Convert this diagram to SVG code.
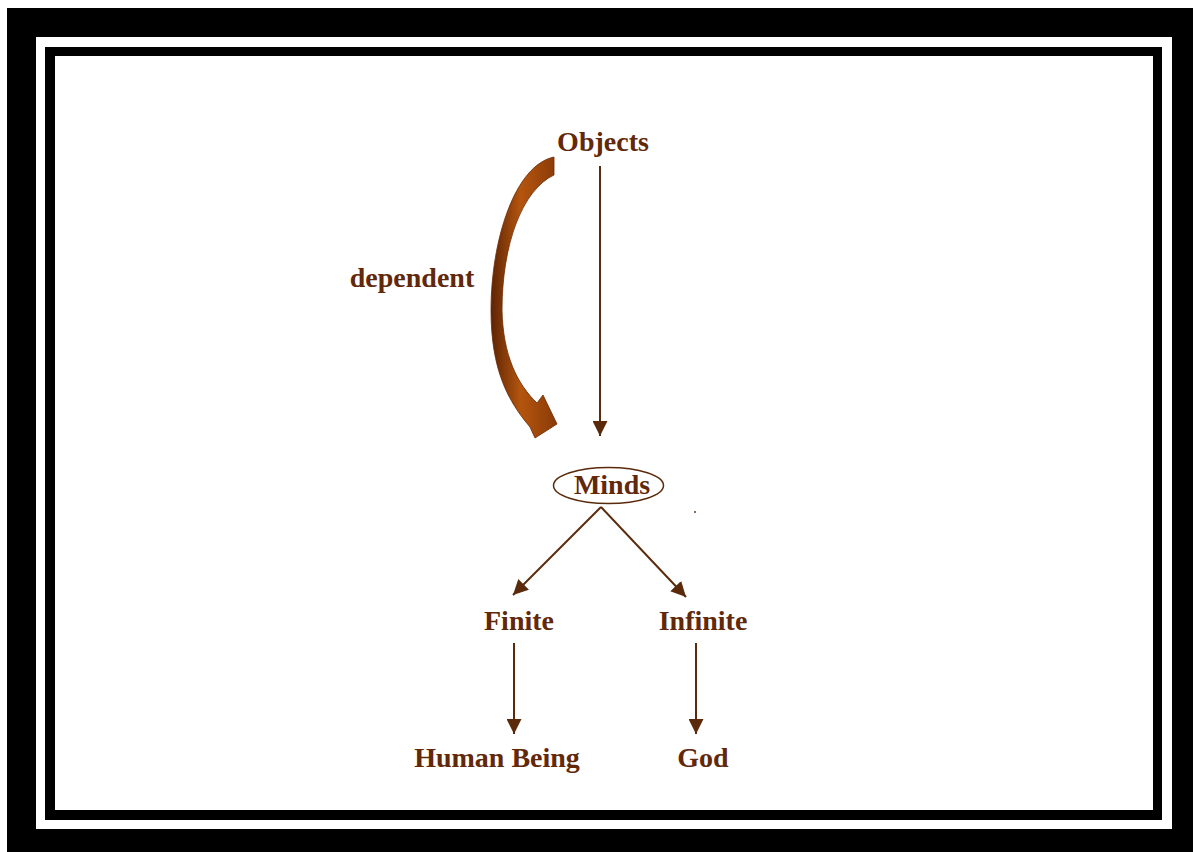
<svg xmlns="http://www.w3.org/2000/svg" width="1197" height="852" viewBox="0 0 1197 852">
  <style>
    .lbl { font-family: "Liberation Serif", "Times New Roman", serif; font-weight: bold; font-size: 28px; fill: #62280a; text-anchor: middle; }
    .conn { stroke: #5a2a0a; stroke-width: 2; fill: none; }
  </style>
  <defs>
    <marker id="ah2" viewBox="0 0 10 10" refX="10" refY="5" markerWidth="7.5" markerHeight="7.5" orient="auto">
      <path d="M0,0 L10,5 L0,10 z" fill="#5a2a0a"/>
    </marker>
    <linearGradient id="curveGrad" x1="0" y1="0" x2="1" y2="0">
      <stop offset="0" stop-color="#5e2404"/>
      <stop offset="0.45" stop-color="#b4550e"/>
      <stop offset="1" stop-color="#8a3a08"/>
    </linearGradient>
  </defs>
  <rect x="0" y="0" width="1197" height="852" fill="#ffffff"/>
  <g id="frame">
    <rect x="7" y="8" width="1186" height="844" fill="#000000"/>
    <rect x="36" y="37" width="1136" height="792" fill="#ffffff"/>
    <rect x="45" y="47" width="1117" height="773" fill="#000000"/>
    <rect x="55" y="56" width="1098" height="754" fill="#ffffff"/>
  </g>
  <g id="connectors">
    <path id="c-objects-minds" class="conn" d="M600,166 L600,436" marker-end="url(#ah2)"/>
    <path id="c-minds-finite" class="conn" d="M601,507 L513,595" marker-end="url(#ah2)"/>
    <path id="c-minds-infinite" class="conn" d="M601,507 L686,597" marker-end="url(#ah2)"/>
    <path id="c-finite-human" class="conn" d="M514,643 L514,734" marker-end="url(#ah2)"/>
    <path id="c-infinite-god" class="conn" d="M696,643 L696,734" marker-end="url(#ah2)"/>
    <path id="c-dependent" d="M554,157 L554,175 C522,190 502,245 502,310 C503,355 517,384 537,403 L543,395 L557,424 L535,438 L530,427 C508,401 491,370 491,310 C491,240 515,165 554,157 Z" fill="url(#curveGrad)" stroke="#6b2a05" stroke-width="0.8"/>
  </g>
  <g id="node-objects"><text class="lbl" x="603" y="151">Objects</text></g>
  <g id="label-dependent"><text class="lbl" x="412" y="287">dependent</text></g>
  <g id="node-minds">
    <ellipse cx="608.5" cy="485.5" rx="55" ry="18" fill="none" stroke="#5a2a0a" stroke-width="1.5"/>
    <text class="lbl" x="612" y="494">Minds</text>
  </g>
  <g id="node-finite"><text class="lbl" x="519" y="630">Finite</text></g>
  <g id="node-infinite"><text class="lbl" x="703" y="630">Infinite</text></g>
  <g id="node-human"><text class="lbl" x="497" y="767">Human Being</text></g>
  <g id="node-god"><text class="lbl" x="703" y="767">God</text></g>
  <circle cx="695" cy="512" r="0.9" fill="#5a2a0a"/>
</svg>
